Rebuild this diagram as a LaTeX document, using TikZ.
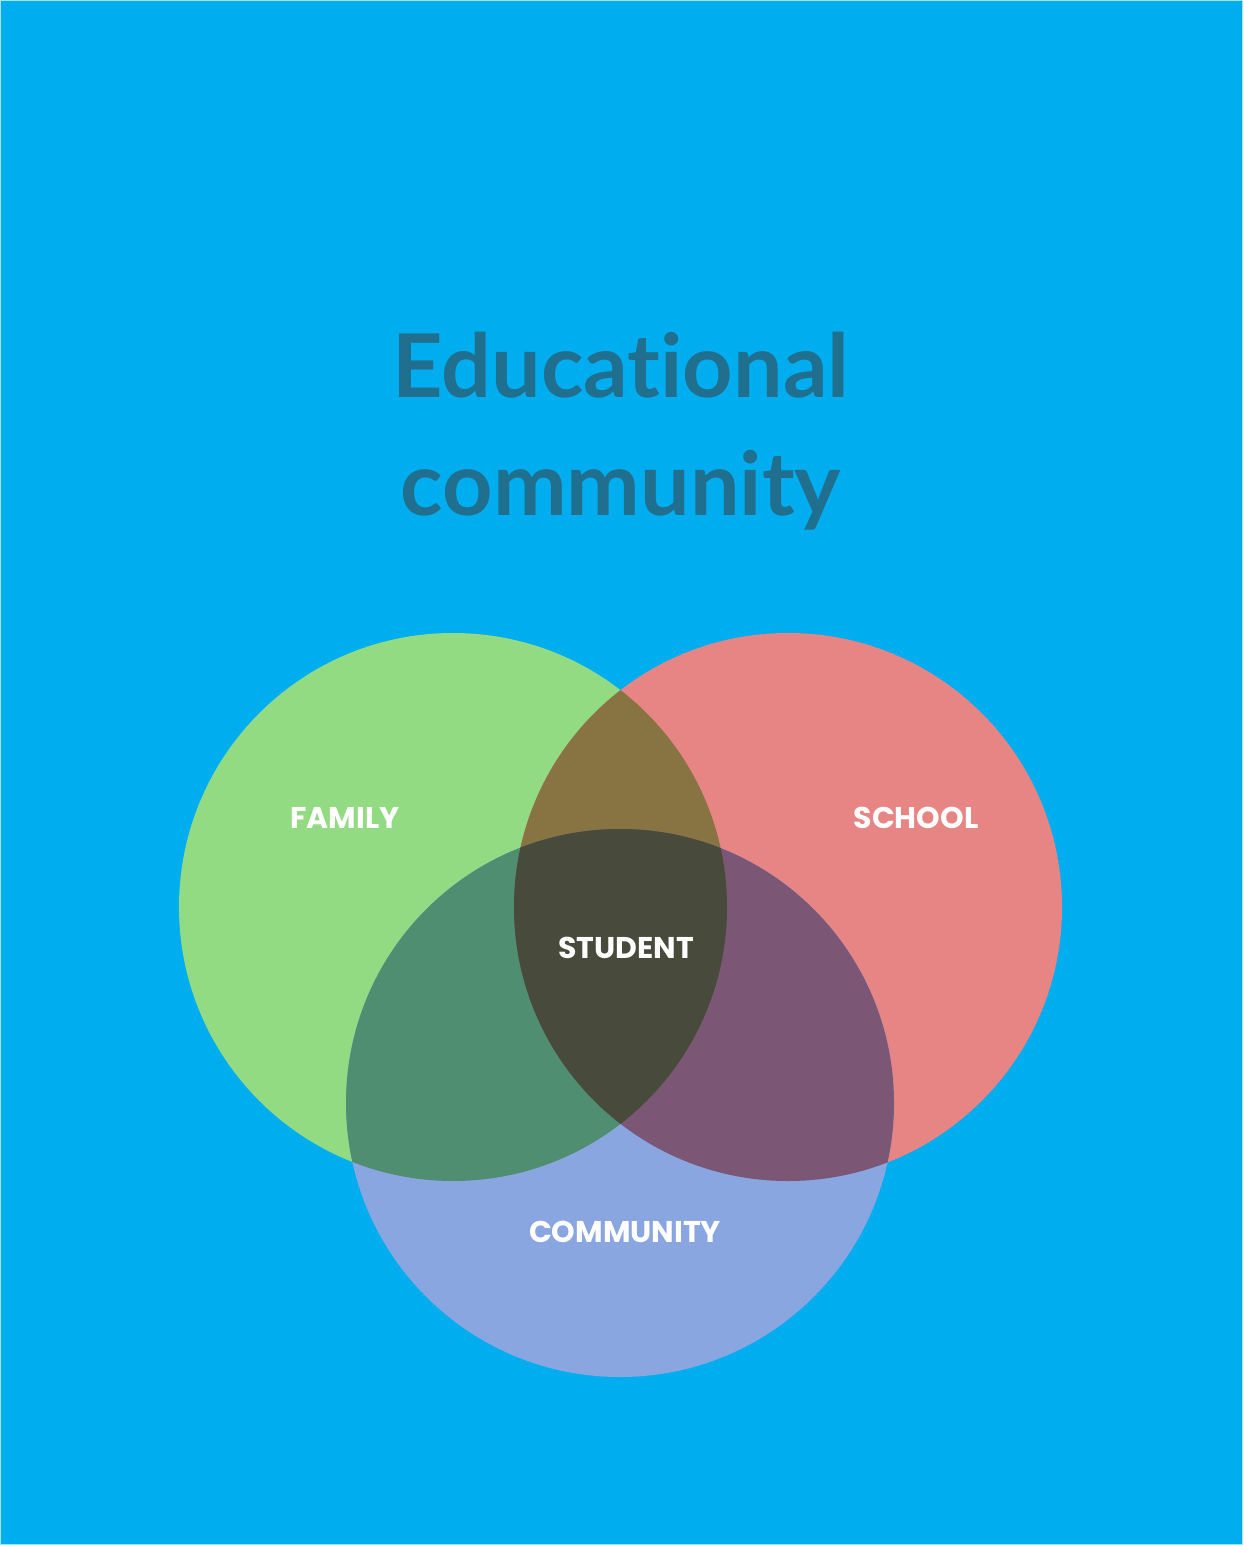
\documentclass[tikz,border=0pt]{standalone}
\usepackage{fontspec}
\usepackage{tikz}
\newfontfamily\titlefont[Ligatures=NoCommon]{Lato}
\newfontfamily\tagfont{Poppins}

\definecolor{bgblue}{RGB}{0,174,239}
\definecolor{titleblue}{RGB}{32,111,143}
\definecolor{famgreen}{RGB}{147,219,131}
\definecolor{schpink}{RGB}{231,133,133}
\definecolor{comblue}{RGB}{138,166,225}
\definecolor{famsch}{RGB}{136,115,66}
\definecolor{famcom}{RGB}{79,142,113}
\definecolor{schcom}{RGB}{123,86,117}
\definecolor{allthree}{RGB}{72,74,59}

\begin{document}
\begin{tikzpicture}[x=0.5pt, y=-0.5pt,
	tag/.style={text=white, font=\tagfont\bfseries\fontsize{15}{18}\selectfont, inner sep=0pt},
	headline/.style={text=titleblue, font=\titlefont\bfseries\fontsize{44}{54}\selectfont, inner sep=0pt, anchor=base}]
	\useasboundingbox (0,0) rectangle (1243,1545);
	\fill[bgblue] (0,0) rectangle (1243,1545);
	\draw[cyan!35, line width=0.5pt] (0.5,0.5) rectangle (1242.5,1544.5);
	% title
	\node[headline] (title1) at (621,398) {Educational};
	\node[headline] (title2) at (621,515) {community};
	% circle centres
	\coordinate (famc) at (453,907);
	\coordinate (schc) at (788,907);
	\coordinate (comc) at (620,1103);
	\def\rad{274}
	\fill[famgreen] (famc) circle[radius=\rad];
	\fill[schpink] (schc) circle[radius=\rad];
	\fill[comblue] (comc) circle[radius=\rad];
	% pairwise overlaps
	\begin{scope}
		\clip (famc) circle[radius=\rad];
		\fill[famsch] (schc) circle[radius=\rad];
		\fill[famcom] (comc) circle[radius=\rad];
	\end{scope}
	\begin{scope}
		\clip (schc) circle[radius=\rad];
		\fill[schcom] (comc) circle[radius=\rad];
	\end{scope}
	% centre
	\begin{scope}
		\clip (famc) circle[radius=\rad];
		\clip (schc) circle[radius=\rad];
		\fill[allthree] (comc) circle[radius=\rad];
	\end{scope}
	% labels
	\node[tag] (family) at (345,818) {FAMILY};
	\node[tag] (school) at (916,818) {SCHOOL};
	\node[tag] (student) at (626,948) {STUDENT};
	\node[tag] (community) at (625,1232) {COMMUNITY};
\end{tikzpicture}
\end{document}
